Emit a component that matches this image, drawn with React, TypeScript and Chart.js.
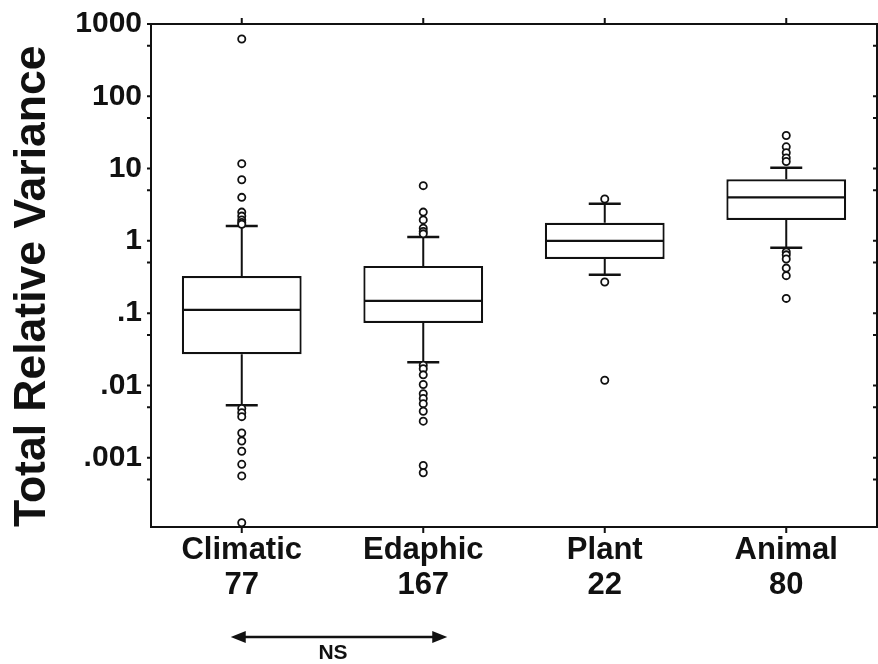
import React, { useEffect, useRef } from 'react';
import { Chart, registerables } from 'chart.js';

Chart.register(...registerables);

const categories = ['Climatic', 'Edaphic', 'Plant', 'Animal'];
const counts = [77, 167, 22, 80];
const q1 = [0.027, 0.073, 0.56, 1.95];
const medians = [0.111, 0.148, 1.0, 4.0];
const q3 = [0.327, 0.45, 1.78, 7.1];
const whiskerLow = [0.0053, 0.021, 0.34, 0.8];
const whiskerHigh = [1.6, 1.13, 3.25, 10.3];

const climaticOutliers = [620, 11.7, 7.0, 4.0, 2.5, 2.2, 1.95, 1.8, 1.7, 0.0048, 0.0042, 0.0037, 0.0022, 0.0017, 0.00123, 0.00081, 0.00056, 0.000126];
const edaphicOutliers = [5.8, 2.5, 1.95, 1.5, 1.35, 1.25, 0.019, 0.017, 0.014, 0.0103, 0.0077, 0.0066, 0.0056, 0.0044, 0.0032, 0.00078, 0.00062];
const plantOutliers = [3.8, 0.27, 0.0118];
const animalOutliers = [28.7, 20, 16.6, 14, 12.5, 0.7, 0.64, 0.56, 0.42, 0.33, 0.16];
const outlierGroups = [climaticOutliers, edaphicOutliers, plantOutliers, animalOutliers];

const yTickValues = [1000, 100, 10, 1, 0.1, 0.01, 0.001];
const yTickLabels = ['1000', '100', '10', '1', '.1', '.01', '.001'];
const yMinorTicks = [500, 50, 5, 0.5, 0.05, 0.005, 0.0005];
const yMin = 0.00011;
const yMax = 1000;

const yTitle = 'Total Relative Variance';
const bracketLabel = 'NS';

const FONT = "'Liberation Sans', Arial, Helvetica, sans-serif";
const INK = '#111';

const framePlugin = {
  id: 'frame',
  afterDraw(chart: any) {
    const { ctx, chartArea: a, scales } = chart;
    const xs = scales.x;
    const ys = scales.y;
    ctx.save();
    ctx.strokeStyle = INK;
    ctx.lineWidth = 2;
    ctx.strokeRect(a.left, a.top, a.right - a.left, a.bottom - a.top);
    ctx.beginPath();
    categories.forEach((_, i) => {
      const px = xs.getPixelForValue(i);
      ctx.moveTo(px, a.top);
      ctx.lineTo(px, a.top - 6);
      ctx.moveTo(px, a.bottom);
      ctx.lineTo(px, a.bottom + 6);
    });
    [...yTickValues, ...yMinorTicks].forEach((v) => {
      const py = ys.getPixelForValue(v);
      ctx.moveTo(a.left, py);
      ctx.lineTo(a.left - 4, py);
      ctx.moveTo(a.right, py);
      ctx.lineTo(a.right - 4, py);
    });
    ctx.stroke();

    // NS bracket arrow between Climatic and Edaphic
    const x0 = xs.getPixelForValue(0) - 11;
    const x1 = xs.getPixelForValue(1) + 24;
    const ay = 637;
    ctx.lineWidth = 2.5;
    ctx.beginPath();
    ctx.moveTo(x0 + 8, ay);
    ctx.lineTo(x1 - 8, ay);
    ctx.stroke();
    ctx.fillStyle = INK;
    ctx.beginPath();
    ctx.moveTo(x0, ay);
    ctx.lineTo(x0 + 15, ay - 6);
    ctx.lineTo(x0 + 15, ay + 6);
    ctx.closePath();
    ctx.fill();
    ctx.beginPath();
    ctx.moveTo(x1, ay);
    ctx.lineTo(x1 - 15, ay - 6);
    ctx.lineTo(x1 - 15, ay + 6);
    ctx.closePath();
    ctx.fill();
    ctx.font = `bold 21px ${FONT}`;
    ctx.textAlign = 'center';
    ctx.textBaseline = 'middle';
    ctx.fillText(bracketLabel, (x0 + x1) / 2 - 6, ay + 16);
    ctx.restore();
  },
};

export default function App() {
  const ref = useRef<HTMLCanvasElement | null>(null);

  useEffect(() => {
    if (!ref.current) return;
    Chart.defaults.color = INK;

    const stemData: any[] = [];
    categories.forEach((c, i) => {
      stemData.push({ x: c, y: q3[i] }, { x: c, y: whiskerHigh[i] }, { x: c, y: null });
      stemData.push({ x: c, y: q1[i] }, { x: c, y: whiskerLow[i] }, { x: c, y: null });
    });

    const outlierData: any[] = [];
    outlierGroups.forEach((g, i) => g.forEach((v) => outlierData.push({ x: categories[i], y: v })));

    const capData: any[] = [];
    categories.forEach((c, i) => {
      capData.push({ x: c, y: whiskerLow[i] }, { x: c, y: whiskerHigh[i] });
    });

    const chart = new Chart(ref.current, {
      type: 'bar',
      data: {
        labels: categories,
        datasets: [
          {
            type: 'scatter',
            data: outlierData,
            pointStyle: 'circle',
            pointRadius: 3.6,
            pointBorderWidth: 1.8,
            pointBorderColor: INK,
            pointBackgroundColor: '#fff',
          } as any,
          {
            type: 'scatter',
            data: categories.map((c, i) => ({ x: c, y: medians[i] })),
            pointStyle: 'line',
            pointRadius: 59,
            pointBorderWidth: 2.2,
            pointBorderColor: INK,
          } as any,
          {
            type: 'scatter',
            data: capData,
            pointStyle: 'line',
            pointRadius: 16,
            pointBorderWidth: 2.5,
            pointBorderColor: INK,
          } as any,
          {
            type: 'line',
            data: stemData,
            borderColor: INK,
            borderWidth: 2,
            pointRadius: 0,
            spanGaps: false,
          } as any,
          {
            type: 'bar',
            data: categories.map((_, i) => [q1[i], q3[i]]),
            backgroundColor: '#fff',
            borderColor: INK,
            borderWidth: 2.2,
            borderSkipped: false,
            barPercentage: 0.66,
            categoryPercentage: 1,
          } as any,
        ],
      },
      options: {
        responsive: false,
        maintainAspectRatio: false,
        animation: false,
        layout: { autoPadding: false, padding: { top: 24, right: 1, left: 0, bottom: 0 } },
        plugins: {
          legend: { display: false },
          tooltip: { enabled: false },
        },
        scales: {
          x: {
            type: 'category',
            offset: true,
            grid: { display: false, drawTicks: false },
            border: { display: false },
            afterFit: (s: any) => {
              s.height = 137;
              s.paddingLeft = 0;
              s.paddingRight = 0;
            },
            ticks: {
              autoSkip: false,
              maxRotation: 0,
              minRotation: 0,
              padding: 6,
              color: INK,
              font: { family: FONT, weight: 'bold', size: 31, lineHeight: 1.12 },
              callback: (_v: any, i: number) => [categories[i], String(counts[i])],
            },
          },
          y: {
            type: 'logarithmic',
            min: yMin,
            max: yMax,
            grid: { display: false, drawTicks: false },
            border: { display: false },
            afterFit: (s: any) => {
              s.width = 151;
              s.paddingTop = 0;
              s.paddingBottom = 0;
            },
            afterBuildTicks: (s: any) => {
              s.ticks = [...yTickValues, ...yMinorTicks].map((v) => ({ value: v }));
            },
            ticks: {
              autoSkip: false,
              padding: 9,
              color: INK,
              font: { family: FONT, weight: 'bold', size: 30 },
              callback: (v: any) => {
                const i = yTickValues.indexOf(Number(v));
                return i >= 0 ? yTickLabels[i] : '';
              },
            },
            title: {
              display: true,
              text: yTitle,
              color: INK,
              align: 'start',
              padding: { top: 6, bottom: 0 },
              font: { family: FONT, weight: 'bold', size: 44.5, lineHeight: 1.2 },
            },
          },
        },
      } as any,
      plugins: [framePlugin],
    });
    return () => chart.destroy();
  }, []);

  return (
    <div style={{ position: 'absolute', left: 0, top: 0, width: 878, height: 664, background: '#fff' }}>
      <canvas ref={ref} width={878} height={664} style={{ display: 'block' }} />
    </div>
  );
}
